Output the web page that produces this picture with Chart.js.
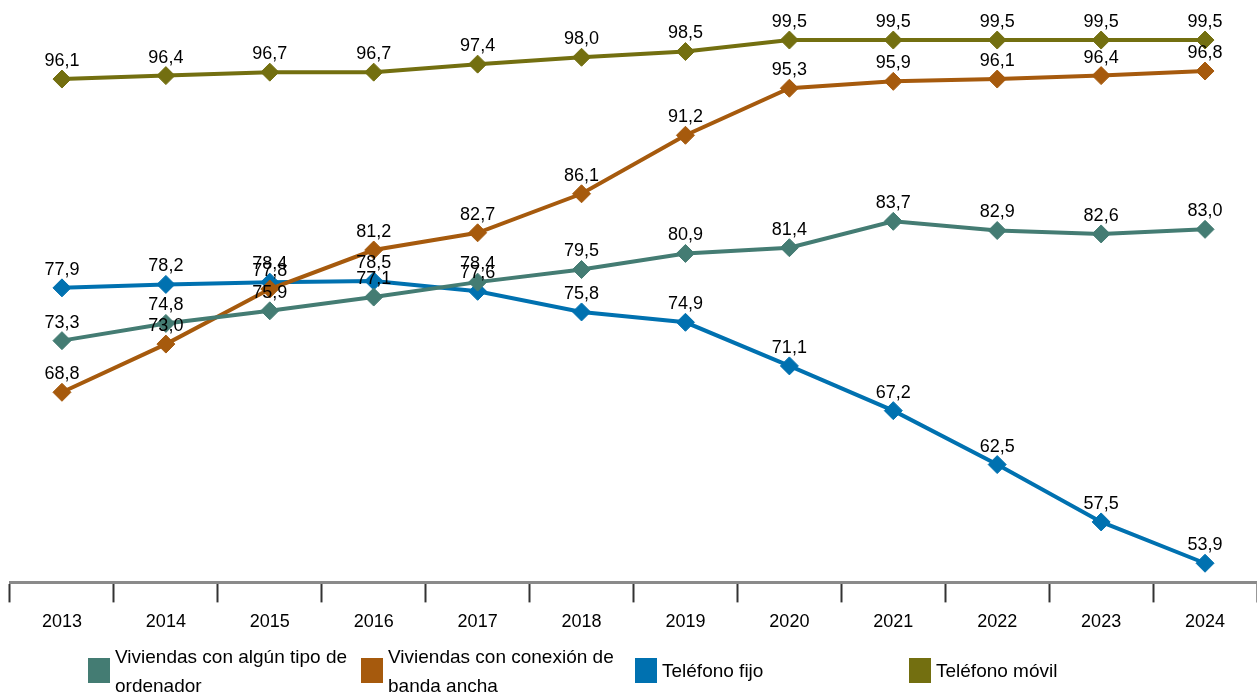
<!DOCTYPE html>
<html>
<head>
<meta charset="utf-8">
<script src="https://cdn.jsdelivr.net/npm/chart.js@4.4.1/dist/chart.umd.min.js"></script>
<style>
  html, body { margin: 0; padding: 0; background: #fff; }
  #wrap { position: relative; width: 1257px; height: 693px; overflow: hidden; }
  #chartBox { position: absolute; left: 0; top: 0; width: 1257px; height: 642px; }
  .leg { position: absolute; top: 641px; width: 270px; height: 59px; display: flex; align-items: center;
         font-family: "Liberation Sans", Arial, sans-serif; font-size: 19px; line-height: 29px; color: #000; }
  .leg .box { flex: 0 0 22px; height: 25px; margin-right: 5px; }
  .leg .txt { width: 242px; }
</style>
</head>
<body>
<div id="wrap">
  <div id="chartBox"><canvas id="c"></canvas></div>
  <div id="legend"></div>
</div>
<script>
// años y series (porcentaje de viviendas)
const years = ['2013', '2014', '2015', '2016', '2017', '2018', '2019', '2020', '2021', '2022', '2023', '2024'];
const ordenador = [73.3, 74.8, 75.9, 77.1, 78.4, 79.5, 80.9, 81.4, 83.7, 82.9, 82.6, 83.0];
const bandaAncha = [68.8, 73.0, 77.8, 81.2, 82.7, 86.1, 91.2, 95.3, 95.9, 96.1, 96.4, 96.8];
const telFijo = [77.9, 78.2, 78.4, 78.5, 77.6, 75.8, 74.9, 71.1, 67.2, 62.5, 57.5, 53.9];
const telMovil = [96.1, 96.4, 96.7, 96.7, 97.4, 98.0, 98.5, 99.5, 99.5, 99.5, 99.5, 99.5];

const seriesNames = ['Viviendas con algún tipo de ordenador', 'Viviendas con conexión de banda ancha', 'Teléfono fijo', 'Teléfono móvil'];
const seriesColors = ['#447c73', '#a65a0d', '#0071b0', '#736f10'];
const seriesData = [ordenador, bandaAncha, telFijo, telMovil];

const fmt = v => v.toFixed(1).replace('.', ',');

const valueLabels = {
  id: 'valueLabels',
  afterDatasetsDraw(chart) {
    const ctx = chart.ctx;
    ctx.save();
    ctx.font = '18px "Liberation Sans", Arial, sans-serif';
    ctx.fillStyle = '#000';
    ctx.textAlign = 'center';
    ctx.textBaseline = 'middle';
    chart.data.datasets.forEach((ds, i) => {
      chart.getDatasetMeta(i).data.forEach((pt, j) => {
        ctx.fillText(fmt(ds.data[j]), pt.x, pt.y - 18);
      });
    });
    ctx.restore();
  }
};

new Chart(document.getElementById('c'), {
  type: 'line',
  data: {
    labels: years,
    datasets: seriesData.map((d, i) => ({
      label: seriesNames[i],
      data: d,
      borderColor: seriesColors[i],
      backgroundColor: seriesColors[i],
      borderWidth: 4,
      pointStyle: 'rectRot',
      pointRadius: 9,
      pointBorderWidth: 1,
      tension: 0
    }))
  },
  options: {
    responsive: true,
    maintainAspectRatio: false,
    animation: false,
    layout: { autoPadding: false, padding: { left: 10, right: 0, top: 0, bottom: 0 } },
    plugins: { legend: { display: false }, tooltip: { enabled: false } },
    scales: {
      x: {
        offset: true,
        grid: { offset: true, drawOnChartArea: false, tickLength: 20, tickWidth: 2, tickColor: '#333' },
        border: { color: '#8a8a8a', width: 3 },
        ticks: { color: '#000', padding: 9, maxRotation: 0, font: { family: '"Liberation Sans", Arial, sans-serif', size: 18 } }
      },
      y: { display: false, min: 52.23, max: 102.99 }
    }
  },
  plugins: [valueLabels]
});

const legend = document.getElementById('legend');
const legLeft = [88, 361, 635, 909];
seriesNames.forEach((n, i) => {
  const el = document.createElement('div');
  el.className = 'leg';
  el.style.left = legLeft[i] + 'px';
  el.innerHTML = '<div class="box" style="background:' + seriesColors[i] + '"></div><div class="txt">' + n + '</div>';
  legend.appendChild(el);
});
</script>
</body>
</html>
